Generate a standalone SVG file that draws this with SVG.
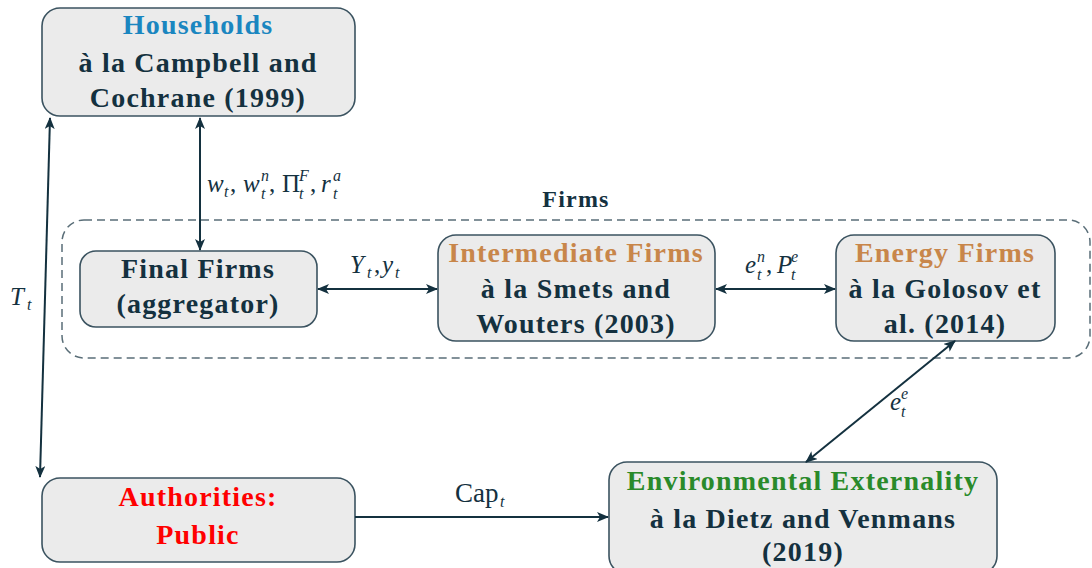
<svg xmlns="http://www.w3.org/2000/svg" width="1092" height="568" viewBox="0 0 1092 568">
<defs>
<marker id="ah" viewBox="0 0 12 10" refX="11" refY="5" markerWidth="12" markerHeight="10" markerUnits="userSpaceOnUse" orient="auto-start-reverse">
<path d="M0,0 L12,5 L0,10 L3,5 Z" fill="#14313f"/>
</marker>
</defs>
<style>
.box{fill:#ebebeb;stroke:#3b5360;stroke-width:1.6}
.t{font-family:"Liberation Serif",serif;font-weight:bold;font-size:28px;letter-spacing:1.2px;fill:#14313f;text-anchor:middle}
.m{font-family:"Liberation Serif",serif;font-style:italic;font-size:25px;fill:#14313f}
.r{font-family:"Liberation Serif",serif;font-size:25px;fill:#14313f}
.s{font-family:"Liberation Serif",serif;font-style:italic;font-size:16px;fill:#14313f}
.c{fill:none;stroke:#14313f;stroke-width:2}
</style>
<rect x="0" y="0" width="1092" height="568" fill="#ffffff"/>
<g id="firms-group">
<rect x="62" y="220" width="1028" height="138" rx="22" fill="none" stroke="#5a6e78" stroke-width="1.5" stroke-dasharray="8,5"/>
<text class="t" x="576" y="207" style="font-size:24px">Firms</text>
</g>
<g id="households">
<rect class="box" x="42" y="8" width="313" height="108" rx="18"/>
<text class="t" x="198" y="34" style="fill:#1a86c0">Households</text>
<text class="t" x="198" y="72">à la Campbell and</text>
<text class="t" x="198" y="107">Cochrane (1999)</text>
</g>
<g id="final-firms">
<rect class="box" x="80" y="251" width="237" height="76" rx="16"/>
<text class="t" x="198" y="278">Final Firms</text>
<text class="t" x="198" y="313">(aggregator)</text>
</g>
<g id="intermediate-firms">
<rect class="box" x="438" y="235" width="277" height="106" rx="18"/>
<text class="t" x="576" y="262" style="fill:#c8864a">Intermediate Firms</text>
<text class="t" x="576" y="298">à la Smets and</text>
<text class="t" x="576" y="333">Wouters (2003)</text>
</g>
<g id="energy-firms">
<rect class="box" x="836" y="235" width="219" height="106" rx="18"/>
<text class="t" x="945" y="262" style="fill:#c8864a">Energy Firms</text>
<text class="t" x="945" y="298">à la Golosov et</text>
<text class="t" x="945" y="333">al. (2014)</text>
</g>
<g id="authorities">
<rect class="box" x="42" y="478" width="313" height="84" rx="18"/>
<text class="t" x="198" y="506" style="fill:#ff0000">Authorities:</text>
<text class="t" x="198" y="544" style="fill:#ff0000">Public</text>
</g>
<g id="environmental">
<rect class="box" x="609" y="462" width="388" height="112" rx="18"/>
<text class="t" x="803" y="490" style="fill:#2a8a2a">Environmental Externality</text>
<text class="t" x="803" y="528">à la Dietz and Venmans</text>
<text class="t" x="803" y="561">(2019)</text>
</g>
<g id="connectors">
<line class="c" x1="200" y1="118" x2="200" y2="250" marker-start="url(#ah)" marker-end="url(#ah)"/>
<line class="c" x1="50" y1="118" x2="40" y2="477" marker-start="url(#ah)" marker-end="url(#ah)"/>
<line class="c" x1="318" y1="289" x2="437" y2="289" marker-start="url(#ah)" marker-end="url(#ah)"/>
<line class="c" x1="716" y1="289" x2="835" y2="289" marker-start="url(#ah)" marker-end="url(#ah)"/>
<line class="c" x1="806" y1="462" x2="955" y2="341" marker-start="url(#ah)" marker-end="url(#ah)"/>
<line class="c" x1="355" y1="517" x2="608" y2="517" marker-end="url(#ah)"/>
</g>
<g id="labels">
<text class="m" x="207" y="192">w</text><text class="s" x="224" y="197">t</text><text class="r" x="230" y="192">,</text>
<text class="m" x="243" y="192">w</text><text class="s" x="261" y="181">n</text><text class="s" x="261" y="199">t</text><text class="r" x="269" y="192">,</text>
<text class="r" x="282" y="192">Π</text><text class="s" x="299" y="181">F</text><text class="s" x="299" y="199">t</text><text class="r" x="310" y="192">,</text>
<text class="m" x="321" y="192">r</text><text class="s" x="333" y="181">a</text><text class="s" x="333" y="199">t</text>
<text class="m" x="10" y="305">T</text><text class="s" x="27" y="310">t</text>
<text class="m" x="350" y="273">Y</text><text class="s" x="367" y="278">t</text><text class="r" x="374" y="273">,</text><text class="m" x="382" y="273">y</text><text class="s" x="395" y="278">t</text>
<text class="m" x="745" y="273">e</text><text class="s" x="757" y="262">n</text><text class="s" x="757" y="280">t</text><text class="r" x="766" y="273">,</text><text class="m" x="777" y="273">P</text><text class="s" x="791" y="262">e</text><text class="s" x="791" y="280">t</text>
<text class="m" x="890" y="410">e</text><text class="s" x="901" y="399">e</text><text class="s" x="901" y="417">t</text>
<text class="r" x="455" y="502" style="font-size:27px">Cap</text><text class="s" x="500" y="507">t</text>
</g>
</svg>
